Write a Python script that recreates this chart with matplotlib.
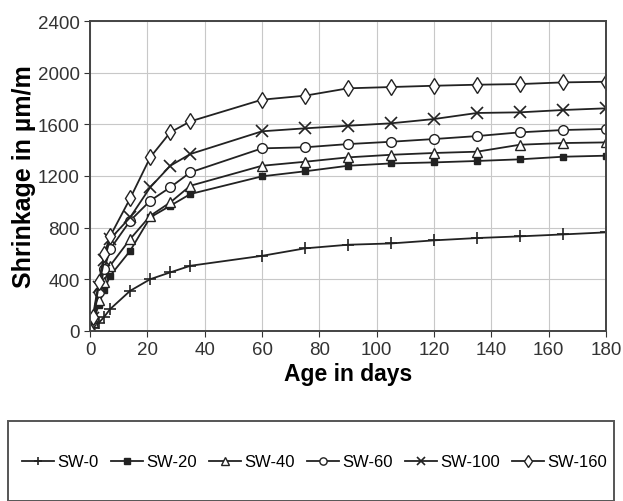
import matplotlib.pyplot as plt
from matplotlib.patches import Rectangle

# umur (hari)
days = [0, 1, 3, 5, 7, 14, 21, 28, 35, 60, 75, 90, 105, 120, 135, 150, 165, 180]

# susut tiap campuran (um/m)
sw0 = [0, 20, 60, 110, 168, 310, 400, 453, 504, 581, 639, 667, 677, 701, 719, 732, 747, 763]
sw20 = [0, 60, 200, 320, 426, 620, 879, 969, 1060, 1197, 1236, 1279, 1297, 1305, 1316, 1329, 1349, 1357]
sw40 = [0, 70, 240, 380, 504, 711, 891, 995, 1124, 1279, 1310, 1344, 1364, 1378, 1388, 1442, 1455, 1460]
sw60 = [0, 90, 300, 480, 633, 853, 1008, 1112, 1228, 1414, 1422, 1447, 1465, 1486, 1509, 1538, 1556, 1564]
sw100 = [0, 100, 340, 550, 711, 879, 1112, 1279, 1370, 1546, 1569, 1589, 1608, 1641, 1688, 1693, 1711, 1724]
sw160 = [0, 110, 375, 594, 732, 1026, 1344, 1538, 1623, 1791, 1822, 1879, 1889, 1899, 1907, 1912, 1925, 1930]

labels = ["SW-0", "SW-20", "SW-40", "SW-60", "SW-100", "SW-160"]
series = [sw0, sw20, sw40, sw60, sw100, sw160]
markers = [
    dict(marker="+", ms=8, mew=1.2),
    dict(marker="s", ms=5, mfc="#222222"),
    dict(marker="^", ms=7, mfc="white"),
    dict(marker="o", ms=7, mfc="white"),
    dict(marker="x", ms=8, mew=1.2),
    dict(marker="d", ms=8.5, mfc="white"),
]

plt.rcParams['font.family'] = ['Liberation Sans', 'DejaVu Sans']

fig = plt.figure(figsize=(6.23, 5.02), dpi=100)
ax = fig.add_axes([0.1445, 0.339, 0.8282, 0.617])

for y, lab, mk in zip(series, labels, markers):
    ax.plot(days, y, color="#222222", lw=1.3, mec="#222222", label=lab, **mk)

ax.set_xlim(0, 180)
ax.set_ylim(0, 2400)
ax.set_xticks(range(0, 181, 20))
ax.set_yticks(range(0, 2401, 400))
ax.grid(True, color="#c8c8c8", lw=0.8)
ax.tick_params(labelsize=13.5, colors="#333333", length=4)
for s in ax.spines.values():
    s.set_color("#444444")
    s.set_linewidth(1.4)

ax.set_xlabel("Age in days", fontsize=16.5, fontweight="bold", labelpad=3)
ax.set_ylabel("Shrinkage in µm/m", fontsize=18, fontweight="bold", labelpad=1)

# kotak legenda di bawah
fig.patches.append(Rectangle((8 / 623, 0.0), 606 / 623, 80 / 502, transform=fig.transFigure,
                             fill=False, edgecolor="#555555", lw=1.4))
fig.legend(loc="center", bbox_to_anchor=(0.505, 1 - 463 / 502), ncol=6, frameon=False,
           fontsize=12, handlelength=1.9, handletextpad=0.2, columnspacing=0.75,
           markerscale=0.75)

plt.savefig("out.png", dpi=100)
